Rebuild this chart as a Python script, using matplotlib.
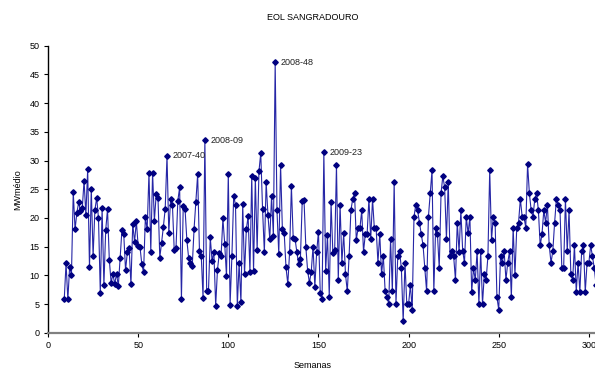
import matplotlib
matplotlib.use("Agg")
import matplotlib.pyplot as plt
import numpy as np

title = "EOL SANGRADOURO"
x_label = "Semanas"
y_label = "MWmédio"

start_week = 9
mw_values = [
    5.8, 12.1, 5.8, 11.5, 10.1, 24.5, 18.0, 20.9, 22.7, 21.2,
    21.7, 26.5, 20.5, 28.5, 11.4, 25.1, 13.3, 21.4, 23.5, 19.9,
    6.9, 21.7, 8.3, 17.9, 21.5, 12.7, 8.7, 10.2, 8.5, 10.3,
    8.1, 13.1, 17.9, 17.2, 10.9, 14.0, 14.7, 8.4, 19.0, 15.8,
    19.4, 15.1, 15.0, 12.0, 10.5,
    20.1, 18.0, 27.9, 14.1, 27.9, 19.5, 24.1, 23.5, 13.1, 15.7,
    18.5, 21.6, 30.8, 17.4, 23.3, 22.3, 14.4, 14.8, 23.0, 25.3,
    5.9, 22.0, 21.6, 16.2, 13.0, 12.1, 11.6, 18.0, 22.8, 27.6,
    14.3, 13.4, 6.0, 33.5, 7.3, 7.3, 16.6, 12.5, 14.1, 4.7,
    11.0, 13.8, 13.4, 19.9, 15.5, 9.8, 27.7, 4.9, 13.4, 23.9,
    22.2, 4.7, 12.1, 5.3, 22.4, 10.2, 18.0, 20.3,
    10.5, 27.3, 10.8, 26.9, 14.4, 28.1, 31.3, 21.5, 14.0, 26.2,
    20.5, 16.3, 23.8, 16.9, 47.1, 21.3, 13.7, 29.2, 18.0, 17.4,
    11.4, 8.5, 14.0, 25.5, 16.5, 16.4, 14.1, 12.0, 12.9, 22.9,
    23.1, 15.0, 10.8, 8.7, 10.6, 15.0, 8.0, 14.0, 17.6, 7.0,
    5.8, 31.4, 10.8, 17.0, 6.3, 22.7, 13.8, 14.4, 29.2, 9.2,
    22.3,
    12.2, 17.3, 10.2, 7.2, 13.3, 21.3, 23.3, 24.3, 16.2, 18.2,
    18.2, 21.3, 14.1, 17.2, 17.2, 23.3, 16.3, 23.3, 18.2, 18.2,
    12.2, 17.2, 10.2, 13.3, 7.2, 6.3, 5.0, 16.3, 7.2, 26.3,
    5.0, 13.3, 14.2, 11.2, 2.0, 12.2, 5.0, 5.0, 8.3, 4.0,
    20.2, 22.3, 21.3, 19.2, 17.2, 15.3, 11.2, 7.2, 20.2, 24.3,
    28.3, 7.2, 18.2, 17.2, 11.2, 24.3, 27.3, 25.3, 16.3, 26.3,
    13.3, 14.2, 13.3, 9.2, 19.2, 14.1, 21.3,
    14.3, 12.2, 20.2, 17.3, 20.2, 7.1, 11.2, 9.2, 14.2, 5.0,
    14.2, 5.0, 10.2, 9.2, 13.3, 28.3, 16.2, 20.2, 19.2, 6.2,
    4.0, 13.3, 12.2, 14.2, 9.2, 12.2, 14.2, 6.2, 18.3, 10.1,
    18.3, 19.2, 23.3, 20.2, 20.2, 18.3, 29.4, 24.3, 21.3, 20.2,
    23.3, 24.3, 21.3, 15.2, 17.2, 21.3, 19.2, 22.3, 15.2, 12.2,
    14.2, 19.2, 23.3, 22.3, 21.3, 11.2, 11.2, 23.3, 14.2, 21.3,
    10.2, 9.2, 15.2, 7.1, 12.2, 7.1, 14.2, 15.2, 7.1, 12.2,
    12.2, 15.2, 13.3, 11.2, 8.3,
]
weeks = np.arange(start_week, start_week + len(mw_values))

annot_labels = ["2007-40", "2008-09", "2008-48", "2009-23"]
annot_weeks = [66, 87, 126, 153]

x_ticks = [0, 50, 100, 150, 200, 250, 300]
y_ticks = [0, 5, 10, 15, 20, 25, 30, 35, 40, 45, 50]

plt.rcParams['font.family'] = ['Liberation Sans', 'DejaVu Sans']

fig = plt.figure(figsize=(5.95, 3.71), dpi=100)
ax = fig.add_axes([0.0807, 0.1032, 0.9193, 0.7736])

navy = '#000080'
ax.plot(weeks, mw_values, color='#2626a6', lw=0.8, marker='D',
        markersize=2.8, markerfacecolor=navy, markeredgecolor=navy, zorder=3)

for lab, wk in zip(annot_labels, annot_weeks):
    val = mw_values[wk - start_week]
    ax.annotate(lab, xy=(wk, val), xytext=(4, 0), textcoords='offset points',
                fontsize=6.5, va='center', ha='left', color='#222222')

ax.set_xlim(0, 303.4)
ax.set_ylim(0, 50)
ax.set_xticks(x_ticks)
ax.set_yticks(y_ticks)
ax.tick_params(axis='both', labelsize=6.5, length=3, width=0.8, direction='out', pad=3)
ax.spines['top'].set_visible(False)
ax.spines['right'].set_visible(False)
ax.spines['left'].set_color('black')
ax.spines['left'].set_linewidth(1.0)
ax.spines['bottom'].set_color('#808080')
ax.spines['bottom'].set_linewidth(1.6)

fig.text(0.525, 0.954, title, ha='center', va='center', fontsize=6.5)
fig.text(0.525, 0.016, x_label, ha='center', va='center', fontsize=6.5)
fig.text(0.03, 0.49, y_label, ha='center', va='center', rotation=90, fontsize=6.5)

fig.savefig("out.png", dpi=100)
